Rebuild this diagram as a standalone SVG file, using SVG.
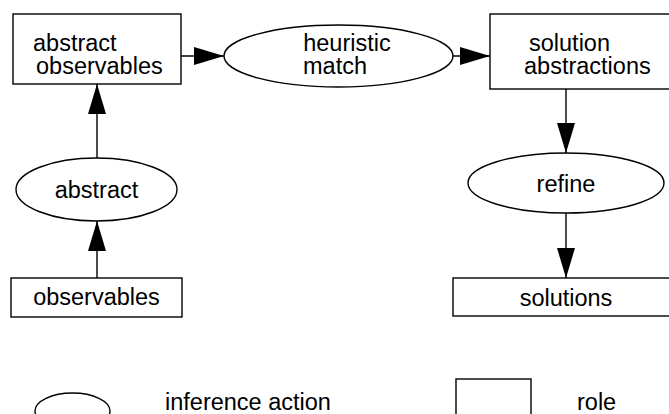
<svg xmlns="http://www.w3.org/2000/svg" width="669" height="414" viewBox="0 0 669 414">
<defs>
<marker id="ah" viewBox="0 0 30 18" refX="30" refY="9" markerWidth="30" markerHeight="18" markerUnits="userSpaceOnUse" orient="auto">
<path d="M0,0 L30,9 L0,18 z" fill="#000"/>
</marker>
</defs>
<style>
.n{fill:#fff;stroke:#000;stroke-width:1.4}
.t{font-family:"Liberation Sans",Arial,sans-serif;font-size:23.5px;fill:#000}
.c{text-anchor:middle}
.e{stroke:#000;stroke-width:1.4;fill:none;marker-end:url(#ah)}
</style>
<rect width="669" height="414" fill="#fff"/>
<g id="connectors">
<line class="e" x1="181" y1="56" x2="224" y2="56"/>
<line class="e" x1="453" y1="56" x2="490" y2="56"/>
<line class="e" x1="566" y1="89" x2="566" y2="153"/>
<line class="e" x1="566" y1="213" x2="566" y2="278"/>
<line class="e" x1="97" y1="158" x2="97" y2="84"/>
<line class="e" x1="97" y1="278" x2="97" y2="221"/>
</g>
<g id="abstract-observables">
<rect class="n" x="13" y="14" width="168" height="70"/>
<text class="t" x="33" y="51">abstract</text>
<text class="t" x="36" y="74">observables</text>
</g>
<g id="heuristic-match">
<ellipse class="n" cx="338.5" cy="56" rx="114.5" ry="31"/>
<text class="t c" x="347" y="51">heuristic</text>
<text class="t c" x="335" y="74">match</text>
</g>
<g id="solution-abstractions">
<rect class="n" x="490" y="14" width="200" height="75"/>
<text class="t" x="529" y="51">solution</text>
<text class="t" x="524" y="74">abstractions</text>
</g>
<g id="abstract">
<ellipse class="n" cx="96.5" cy="189.5" rx="80.5" ry="31.5"/>
<text class="t c" x="96.5" y="198">abstract</text>
</g>
<g id="observables">
<rect class="n" x="11" y="278" width="171" height="39"/>
<text class="t c" x="96.5" y="305">observables</text>
</g>
<g id="refine">
<ellipse class="n" cx="566" cy="183" rx="98" ry="30"/>
<text class="t c" x="566" y="192">refine</text>
</g>
<g id="solutions">
<rect class="n" x="453" y="278" width="240" height="38"/>
<text class="t c" x="566" y="306">solutions</text>
</g>
<g id="legend">
<ellipse class="n" cx="72.5" cy="411" rx="37.5" ry="18"/>
<text class="t" x="165" y="410">inference action</text>
<rect class="n" x="456" y="379" width="75" height="60"/>
<text class="t" x="577" y="410">role</text>
</g>
</svg>
